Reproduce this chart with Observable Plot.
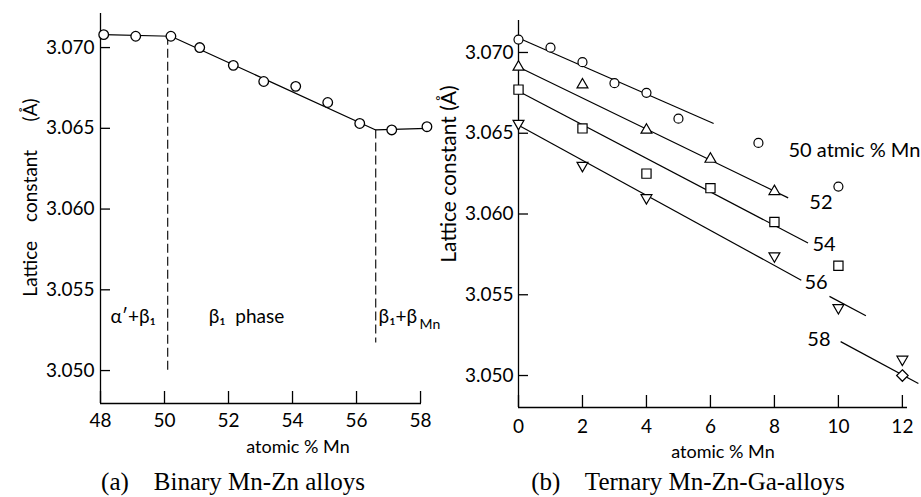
<!DOCTYPE html>
<html><head><meta charset="utf-8">
<script src="https://cdn.jsdelivr.net/npm/d3@7"></script>
<script src="https://cdn.jsdelivr.net/npm/@observablehq/plot@0.6"></script>
<style>
body{margin:0;background:#fff;}
#wrap{position:relative;width:921px;height:497px;overflow:hidden;background:#fff;}
.panel{position:absolute;top:0;}
.cap{position:absolute;font-family:"Liberation Serif",serif;font-size:25px;line-height:25px;white-space:pre;transform:translateX(-50%);color:#000;}
</style></head><body>
<div id="wrap">
  <div id="a" class="panel" style="left:0"></div>
  <div id="b" class="panel" style="left:440px"></div>
  <div class="cap" style="left:233px;top:469px">(a)    Binary Mn-Zn alloys</div>
  <div class="cap" style="left:688px;top:469px">(b)    Ternary Mn-Zn-Ga-alloys</div>
</div>
<script>
// ---------- data: (a) binary Mn-Zn ----------
const binaryMn      = [48.1, 49.1, 50.2, 51.1, 52.15, 53.1, 54.1, 55.1, 56.1, 57.1, 58.2];
const binaryLattice = [3.0708, 3.0707, 3.0707, 3.0700, 3.0689, 3.0679, 3.0676, 3.0666, 3.0653, 3.0649, 3.0651];
const binaryFitMn      = [48.1, 50.2, 56.6, 58.2];
const binaryFitLattice = [3.0708, 3.0707, 3.0649, 3.0650];
const boundaryMn     = [50.1, 56.6];
const boundaryTop    = [3.0707, 3.0649];
const boundaryBottom = [3.0498, 3.0517];
const phaseText  = ["α′+β₁", "β₁  phase", "β₁+β"];
const phaseMn    = [48.31, 51.38, 56.69];
const phaseLat   = [3.0533, 3.0533, 3.0533];
const binaryXTicks = [48, 50, 52, 54, 56, 58];
const latticeTicks = [3.050, 3.055, 3.060, 3.065, 3.070];

// ---------- data: (b) ternary Mn-Zn-Ga ----------
const seriesNames = ["50", "52", "54", "56", "58"];
const ga50 = [0, 1, 2, 3, 4, 5, 7.5, 10];
const lat50 = [3.0708, 3.0703, 3.0694, 3.0681, 3.0675, 3.0659, 3.0644, 3.0617];
const ga52 = [0, 2, 4, 6, 8];
const lat52 = [3.0691, 3.0680, 3.0652, 3.0634, 3.0614];
const ga54 = [0, 2, 4, 6, 8, 10];
const lat54 = [3.0677, 3.0653, 3.0625, 3.0616, 3.0595, 3.0568];
const ga56 = [0, 2, 4, 8, 10, 12];
const lat56 = [3.0656, 3.0630, 3.0610, 3.0574, 3.0542, 3.0510];
const ga58 = [12];
const lat58 = [3.0500];
// fitted line segments per series
const fitSeries = ["50", "52", "54", "56", "56", "58"];
const fitX1 = [0, 0, 0, 0, 9.72, 10.07];
const fitY1 = [3.0709, 3.0691, 3.0676, 3.0655, 3.0549, 3.0521];
const fitX2 = [6.1, 8.43, 9.05, 8.84, 10.86, 12.5];
const fitY2 = [3.0656, 3.0610, 3.0582, 3.0559, 3.0537, 3.0495];
const seriesLabel = ["50 atmic % Mn", "52", "54", "56", "58"];
const labelGa  = [8.44, 9.09, 9.19, 8.94, 9.03];
const labelLat = [3.06393, 3.0607, 3.05808, 3.05573, 3.0522];
const ternaryXTicks = [0, 2, 4, 6, 8, 10, 12];

// ---------- styles ----------
const FONT = "Lato, 'DejaVu Sans', sans-serif";
const seriesStyle = {
  "50": {symbol: "circle", r: 4.5, rotate: 0},
  "52": {symbol: "triangle2", r: 5.2, rotate: 0},
  "54": {symbol: "square", r: 5.2, rotate: 0},
  "56": {symbol: "triangle2", r: 5.2, rotate: 180},
  "58": {symbol: "diamond2", r: 5.2, rotate: 0}
};
const ink = {stroke: "#000", strokeWidth: 1.2};
const Y_TICK_PX = 10, X_TICK_PX = 12;

// inward tick marks as short rules, lengths converted from pixels to data units
function innerTicks(xDom, yDom, fw, fh, xTicks, yTicks) {
  const dxu = Y_TICK_PX * (xDom[1] - xDom[0]) / fw;
  const dyu = X_TICK_PX * (yDom[1] - yDom[0]) / fh;
  return [
    Plot.ruleY(yTicks, {y: d => d, x1: () => xDom[0], x2: () => xDom[0] + dxu, stroke: "#000", strokeWidth: 1.3}),
    Plot.ruleX(xTicks, {x: d => d, y1: () => yDom[0], y2: () => yDom[0] + dyu, stroke: "#000", strokeWidth: 1.3})
  ];
}

// ---------- panel (a) ----------
const binPts = binaryMn.map((x, i) => ({x, y: binaryLattice[i]}));
const binFit = binaryFitMn.map((x, i) => ({x, y: binaryFitLattice[i]}));
const bounds = boundaryMn.map((x, i) => ({x, y1: boundaryTop[i], y2: boundaryBottom[i]}));
const phases = phaseText.map((t, i) => ({t, x: phaseMn[i], y: phaseLat[i]}));
const xDomA = [48, 58.03], yDomA = [3.04796, 3.07211];
const A = {w: 440, h: 470, ml: 100, mr: 19, mt: 13, mb: 67};
const fwA = A.w - A.ml - A.mr, fhA = A.h - A.mt - A.mb;

const plotA = Plot.plot({
  width: A.w, height: A.h,
  marginLeft: A.ml, marginRight: A.mr, marginTop: A.mt, marginBottom: A.mb,
  x: {domain: xDomA},
  y: {domain: yDomA},
  style: {fontFamily: FONT, background: "transparent", overflow: "visible", color: "#000"},
  marks: [
    Plot.ruleX([xDomA[0]], {stroke: "#000", strokeWidth: 1.3}),
    Plot.ruleY([yDomA[0]], {stroke: "#000", strokeWidth: 1.3}),
    ...innerTicks(xDomA, yDomA, fwA, fhA, binaryXTicks, latticeTicks),
    Plot.axisY({ticks: latticeTicks, tickFormat: d3.format(".3f"), tickSize: 0, tickPadding: 6, fontSize: 19, label: null}),
    Plot.axisX({ticks: binaryXTicks, tickFormat: d => d, tickSize: 0, tickPadding: 10, fontSize: 19, label: null}),
    Plot.ruleX(bounds, {x: "x", y1: "y1", y2: "y2", stroke: "#000", strokeWidth: 1.1, strokeDasharray: "9,4"}),
    Plot.line(binFit, {x: "x", y: "y", ...ink}),
    Plot.dot(binPts, {x: "x", y: "y", r: 4.8, fill: "#fff", stroke: "#000", strokeWidth: 1.3}),
    Plot.text(phases, {x: "x", y: "y", text: "t", textAnchor: "start", fontSize: 19}),
    Plot.text(["Mn"], {x: 57.97, y: 3.0533, text: d => d, textAnchor: "start", fontSize: 14, dy: 7}),
    Plot.text(["Lattice\u2002\u2002constant\u2002\u2002\u2002(Å)"], {text: d => d, frameAnchor: "left", textAnchor: "middle", lineAnchor: "middle", rotate: -90, dx: -70, dy: -11, fontSize: 19}),
    Plot.text(["atomic % Mn"], {text: d => d, frameAnchor: "bottom", textAnchor: "middle", lineAnchor: "middle", dx: 37, dy: 44, fontSize: 18})
  ]
});
document.getElementById("a").appendChild(plotA);

// ---------- panel (b) ----------
const gaArrays = {"50": [ga50, lat50], "52": [ga52, lat52], "54": [ga54, lat54], "56": [ga56, lat56], "58": [ga58, lat58]};
const fits = fitSeries.map((s, i) => ({s, x1: fitX1[i], y1: fitY1[i], x2: fitX2[i], y2: fitY2[i]}));
const sLabels = seriesLabel.map((t, i) => ({t, x: labelGa[i], y: labelLat[i]}));
const xDomB = [0, 12.16], yDomB = [3.04802, 3.07198];
const B = {w: 481, h: 470, ml: 78, mr: 14, mt: 20, mb: 63};
const fwB = B.w - B.ml - B.mr, fhB = B.h - B.mt - B.mb;

const dotMarks = seriesNames.map(s => {
  const [xs, ys] = gaArrays[s];
  const st = seriesStyle[s];
  return Plot.dot(xs.map((x, i) => ({x, y: ys[i]})), {x: "x", y: "y", symbol: st.symbol, r: st.r, rotate: st.rotate, fill: "#fff", stroke: "#000", strokeWidth: 1.2});
});

const plotB = Plot.plot({
  width: B.w, height: B.h,
  marginLeft: B.ml, marginRight: B.mr, marginTop: B.mt, marginBottom: B.mb,
  x: {domain: xDomB},
  y: {domain: yDomB},
  style: {fontFamily: FONT, background: "transparent", overflow: "visible", color: "#000"},
  marks: [
    Plot.ruleX([xDomB[0]], {stroke: "#000", strokeWidth: 1.3}),
    Plot.ruleY([yDomB[0]], {stroke: "#000", strokeWidth: 1.3}),
    ...innerTicks(xDomB, yDomB, fwB, fhB, ternaryXTicks, latticeTicks),
    Plot.axisY({ticks: latticeTicks, tickFormat: d3.format(".3f"), tickSize: 0, tickPadding: 5, fontSize: 19, label: null}),
    Plot.axisX({ticks: ternaryXTicks, tickFormat: d => d, tickSize: 0, tickPadding: 12, fontSize: 19, label: null}),
    Plot.link(fits, {x1: "x1", y1: "y1", x2: "x2", y2: "y2", ...ink}),
    ...dotMarks,
    Plot.text(sLabels, {x: "x", y: "y", text: "t", textAnchor: "start", fontSize: 20}),
    Plot.text(["Lattice constant (Å)"], {text: d => d, frameAnchor: "left", textAnchor: "middle", lineAnchor: "middle", rotate: -90, dx: -69, dy: -40, fontSize: 21}),
    Plot.text(["atomic % Mn"], {text: d => d, frameAnchor: "bottom", textAnchor: "middle", lineAnchor: "middle", dx: 10, dy: 45, fontSize: 18})
  ]
});
document.getElementById("b").appendChild(plotB);
</script>
</body></html>
